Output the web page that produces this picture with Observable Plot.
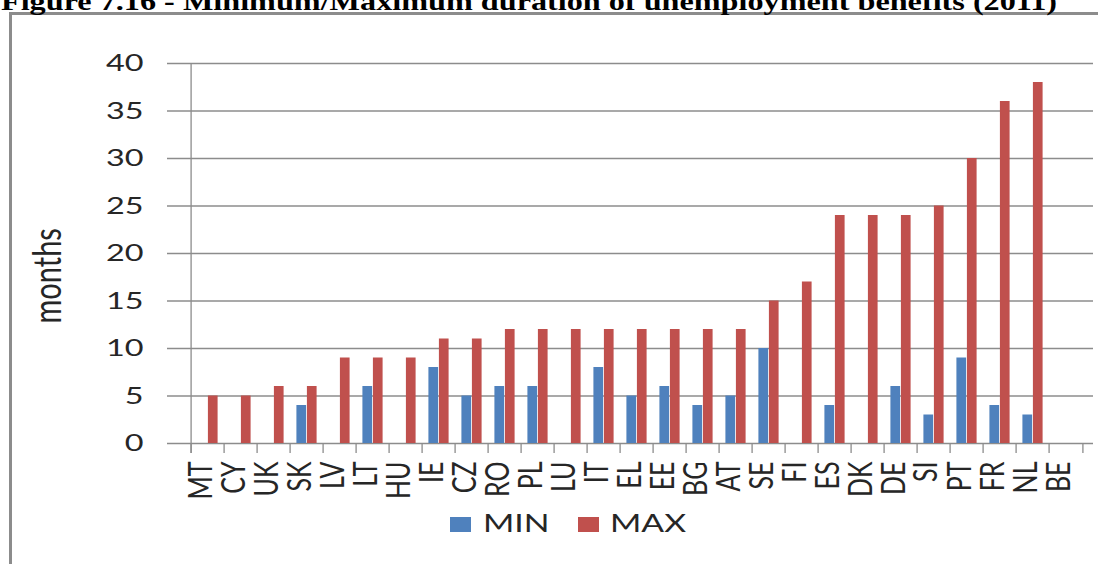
<!DOCTYPE html>
<html><head><meta charset="utf-8">
<script src="https://cdn.jsdelivr.net/npm/d3@7"></script>
<script src="https://cdn.jsdelivr.net/npm/@observablehq/plot@0.6"></script>
<style>
html,body{margin:0;padding:0;background:#fff;}
#wrap{position:relative;width:1098px;height:564px;overflow:hidden;background:#fff;}
#title{position:absolute;left:1px;top:-11.5px;font-family:"Liberation Serif","Times New Roman",serif;font-weight:bold;font-size:26px;line-height:26px;white-space:nowrap;transform-origin:0 0;color:#000;}
#frame{position:absolute;left:9px;top:12px;width:1200px;height:700px;border-left:3px solid #8c8c8c;border-top:3px solid #8c8c8c;box-sizing:border-box;}
#chart{position:absolute;left:0;top:0;}
.leg{position:absolute;font-family:Lato;font-size:25px;line-height:25px;color:#262626;transform-origin:0 0;transform:scaleX(1.35);white-space:nowrap;}
.sw{position:absolute;width:21px;height:15px;}
</style></head>
<body><div id="wrap">
<div id="frame"></div>
<div id="title">Figure 7.16 - Minimum/Maximum duration of unemployment benefits (2011)</div>
<div id="chart"></div>
<div class="sw" style="left:450px;top:517px;background:#4F81BD"></div>
<span class="leg" style="left:483px;top:510px">MIN</span>
<div class="sw" style="left:578px;top:517px;background:#C0504D"></div>
<span class="leg" style="left:610px;top:510px">MAX</span>
</div>
<script>
const countries = ["MT","CY","UK","SK","LV","LT","HU","IE","CZ","RO","PL","LU","IT","EL","EE","BG","AT","SE","FI","ES","DK","DE","SI","PT","FR","NL","BE"];
const minMonths = [null,null,null,4,null,6,null,8,5,6,6,null,8,5,6,4,5,10,null,4,null,6,3,9,4,3,null];
const maxMonths = [5,5,6,6,9,9,9,11,11,12,12,12,12,12,12,12,12,15,17,24,24,24,25,30,36,38,null];
const yTicks = [0,5,10,15,20,25,30,35,40];

const X0 = 180, X1 = 1093;
const bw = (X1 - X0) / countries.length;
const barW = 10.5;
const gray = "#8c8c8c";
const ink = "#262626";

const minData = countries.map((c, i) => ({c, v: minMonths[i]})).filter(d => d.v != null);
const maxData = countries.map((c, i) => ({c, v: maxMonths[i]})).filter(d => d.v != null);

const chart = Plot.plot({
  width: 1098, height: 505,
  marginTop: 63, marginBottom: 62, marginLeft: 167, marginRight: 5,
  x: {type: "band", domain: countries, range: [X0, X1], padding: 0, axis: null},
  y: {domain: [0, 40], axis: null},
  style: {background: "transparent", fontFamily: "Lato", color: ink},
  marks: [
    Plot.ruleY(yTicks, {y: d => d, stroke: gray, strokeWidth: 1.3}),
    Plot.ruleX([countries[0]], {x: d => d, y1: -1.05, y2: 40, dx: -bw / 2, stroke: gray, strokeWidth: 1.3}),
    Plot.ruleX(countries, {x: d => d, y1: 0, y2: -1.05, dx: -bw / 2, stroke: gray, strokeWidth: 1.3}),
    Plot.ruleX([countries[countries.length - 1]], {x: d => d, y1: 0, y2: -1.05, dx: bw / 2, stroke: gray, strokeWidth: 1.3}),
    Plot.barY(minData, {x: "c", y: "v", fill: "#4F81BD", insetLeft: bw / 2 - barW, insetRight: bw / 2}),
    Plot.barY(maxData, {x: "c", y: "v", fill: "#C0504D", insetLeft: bw / 2, insetRight: bw / 2 - barW}),
    Plot.text(yTicks, {y: d => d, text: d => String(d), frameAnchor: "left", textAnchor: "end", dx: -24, fontSize: 24, fill: ink}),
    Plot.text(countries, {x: d => d, text: d => d, frameAnchor: "bottom", rotate: -90, textAnchor: "end", dy: 18, fontSize: 25, fill: ink}),
    Plot.text(["months"], {text: d => d, frameAnchor: "left", rotate: -90, dx: -120, dy: 70, fontSize: 29, fill: ink})
  ]
});
document.getElementById("chart").appendChild(chart);

// horizontal stretch of glyphs, as in the reference picture
const S = 1.35;
chart.querySelectorAll("text").forEach(t => {
  const g = document.createElementNS("http://www.w3.org/2000/svg", "g");
  t.parentNode.insertBefore(g, t);
  g.appendChild(t);
  const bb = g.getBBox();
  const anchor = getComputedStyle(t).textAnchor;
  const rotated = (t.getAttribute("transform") || "").includes("rotate");
  const ax = (!rotated && anchor === "end") ? bb.x + bb.width : bb.x + bb.width / 2;
  g.setAttribute("transform", `translate(${ax},0) scale(${S},1) translate(${-ax},0)`);
});

const title = document.getElementById("title");
const tw = title.getBoundingClientRect().width;
title.style.transform = `scaleX(${1056 / tw})`;
</script>
</body></html>
